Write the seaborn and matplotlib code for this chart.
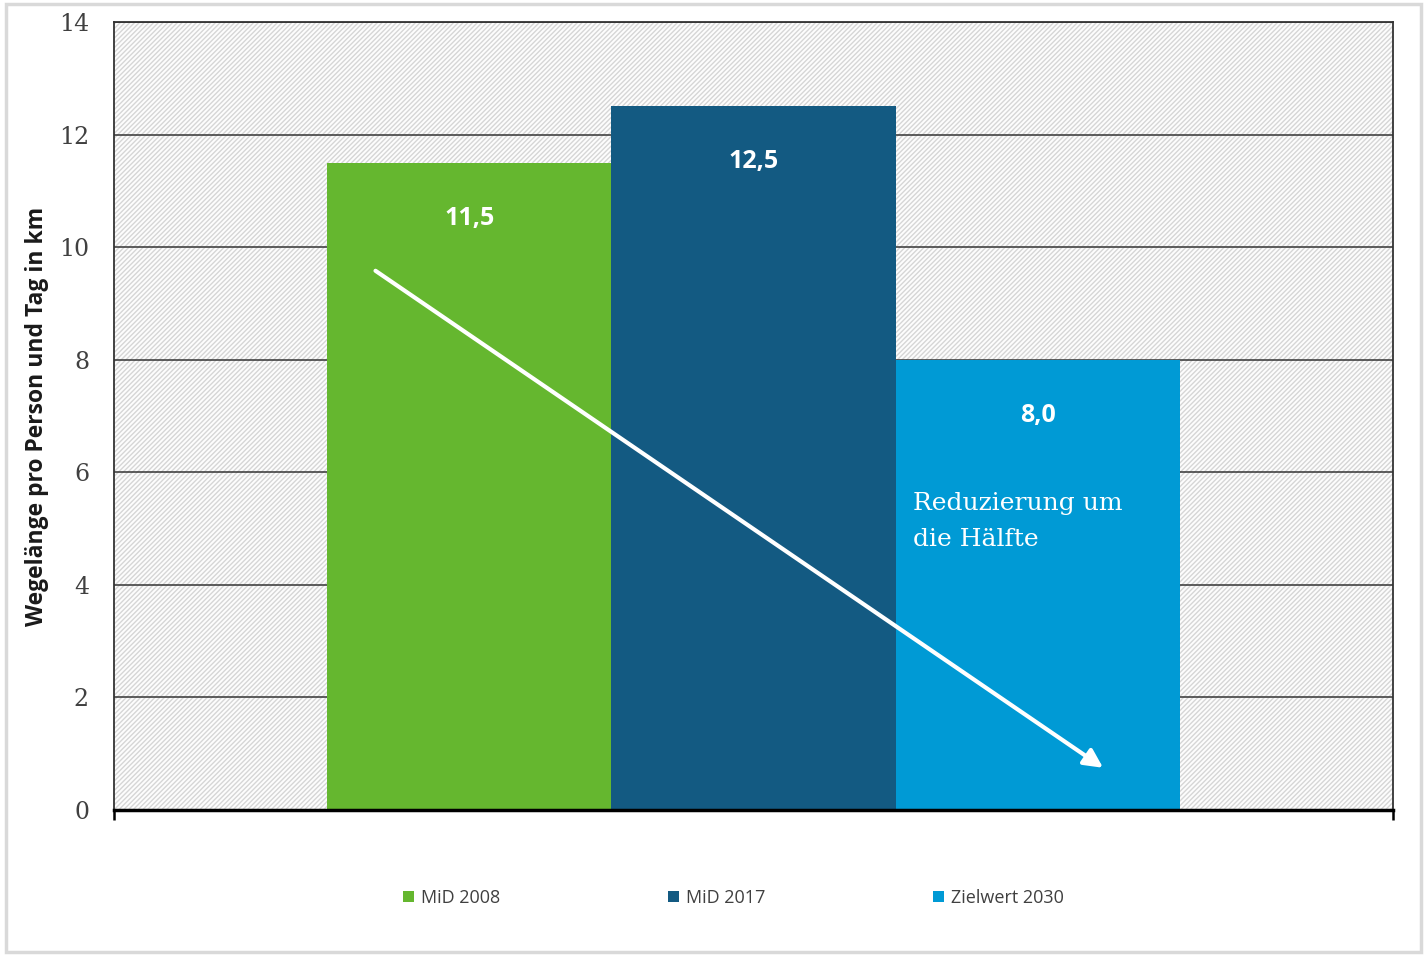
import matplotlib

matplotlib.use("Agg")
import matplotlib.pyplot as plt
import pandas as pd
import seaborn as sns
from matplotlib.patches import Rectangle

series = ["MiD 2008", "MiD 2017", "Zielwert 2030"]
values = [11.5, 12.5, 8.0]
colors = ["#65b72f", "#135a82", "#009ad5"]
y_ticks = [0, 2, 4, 6, 8, 10, 12, 14]
y_label = "Wegelänge pro Person und Tag in km"
note = "Reduzierung um\ndie Hälfte"
arrow_start = (-0.33, 9.58)
arrow_end = (2.23, 0.75)

df = pd.DataFrame({"serie": series, "wert": values})

sns.set_style("white")
plt.rcParams["hatch.linewidth"] = 1.0
fig = plt.figure(figsize=(14.27, 9.56), dpi=100)
ax = fig.add_axes([0.0799, 0.1527, 0.8963, 0.8243])

# schraffierter Hintergrund wie im Excel-Diagramm
ax.add_patch(Rectangle((0, 0), 1, 1, transform=ax.transAxes, facecolor="#fdfdfd",
                       edgecolor="#d6d6d6", hatch="///////", lw=0, zorder=0))
ax.set_axisbelow(True)

sns.barplot(data=df, x="serie", y="wert", hue="serie", palette=colors, width=1.0,
            saturation=1, legend=True, ax=ax, edgecolor="none")

ax.set_xlim(-1.25, 3.25)
ax.set_ylim(0, 14)
ax.set_yticks(y_ticks)
ax.set_yticklabels([str(t) for t in y_ticks], family="DejaVu Serif", fontsize=17, color="#404040")
ax.yaxis.grid(True, color="#333333", lw=1.1)
ax.tick_params(axis="y", length=0, pad=18)
ax.set_xticks([-1.25, 3.25])
ax.set_xticklabels(["", ""])
ax.tick_params(axis="x", bottom=True, length=7, width=1.8, color="black", direction="out")
ax.set_xlabel("")
ax.set_ylabel(y_label, family="Open Sans", fontsize=16.5, fontweight="bold", color="#1a1a1a")
ax.yaxis.set_label_coords(-0.051, 0.5)

for side in ["left", "right", "top"]:
    ax.spines[side].set_visible(True)
    ax.spines[side].set_color("#333333")
    ax.spines[side].set_linewidth(1.3)
ax.spines["bottom"].set_color("black")
ax.spines["bottom"].set_linewidth(2.5)

for i, v in enumerate(values):
    ax.annotate(f"{v:.1f}".replace(".", ","), xy=(i, v), xytext=(0, -40), textcoords="offset points",
                ha="center", va="center", color="white", fontsize=18, fontweight="bold",
                family="Open Sans", zorder=5)

ax.text(1.56, 5.13, note, color="white", family="DejaVu Serif", fontsize=18, ha="left", va="center",
        linespacing=1.7, zorder=5)

ax.annotate("", xy=arrow_end, xytext=arrow_start,
            arrowprops=dict(arrowstyle="-|>", color="white", lw=3, mutation_scale=28, shrinkA=0, shrinkB=0),
            zorder=6)

sns.move_legend(ax, "center", bbox_to_anchor=(0.514, 0.061), bbox_transform=fig.transFigure, ncol=3,
                frameon=False, title=None, handlelength=0.6, handleheight=0.6, handletextpad=0.4,
                columnspacing=9.3, prop={"family": "Open Sans", "size": 13})
for t in ax.get_legend().get_texts():
    t.set_color("#404040")

fig.patches.append(Rectangle((0.004, 0.004), 0.992, 0.992, transform=fig.transFigure, fill=False,
                             edgecolor="#d9d9d9", lw=2.5))

fig.savefig("out.png", dpi=100)
